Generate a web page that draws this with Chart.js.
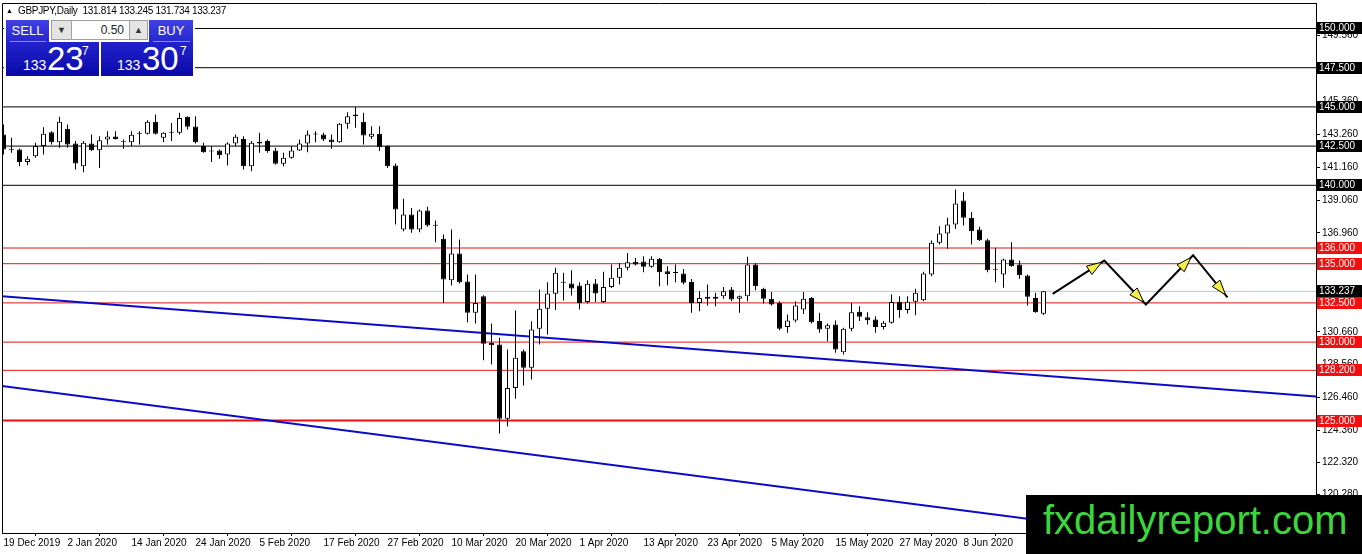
<!DOCTYPE html>
<html>
<head>
<meta charset="utf-8">
<script src="https://cdn.jsdelivr.net/npm/chart.js@4.4.1/dist/chart.umd.min.js"></script>
<style>
  html, body { margin: 0; padding: 0; background: #fff; }
  #wrap { position: relative; width: 1362px; height: 554px; overflow: hidden; font-family: 'Liberation Sans', Arial, sans-serif; }
  #chart { position: absolute; left: 0; top: 0; }
  .abs { position: absolute; white-space: nowrap; }
  #hdr { left: 6px; top: 5px; font-size: 10px; line-height: 12px; letter-spacing: -0.3px; color: #000; }
  #hdr .tri { font-size: 7px; letter-spacing: 0; margin-right: 5px; vertical-align: 1px; }
  .pbg { left: 4px; top: 18px; width: 191px; height: 60px; background: #fff; }
  .bhead { background: linear-gradient(#4040e2, #2626cf); color: #fff; font-family: 'Liberation Sans Narrow', 'Liberation Sans', sans-serif; font-size: 13px; line-height: 22px; text-align: center; }
  .bhead i { position: absolute; left: 4px; right: 3px; bottom: 0; height: 1px; background: #8a8af2; }
  .bbody { background: linear-gradient(#2222cc, #0909a9); }
  .num { color: #fff; font-family: 'Liberation Sans Narrow', 'Liberation Sans', sans-serif; line-height: 1; }
  .ctl { left: 51px; top: 20px; width: 97px; height: 20px; box-sizing: border-box; border: 1px solid #a0a0a0; background: #fff; }
  .btn { top: 20px; height: 20px; box-sizing: border-box; border: 1px solid #a0a0a0; background: #e4e4e4; color: #333; font-size: 9px; line-height: 18px; text-align: center; }
  #lot { left: 72px; top: 20px; width: 52px; font-size: 12px; line-height: 20px; text-align: right; color: #222; }
  #wm { left: 1026px; top: 495px; width: 336px; height: 59px; background: #000; }
  #wm span { position: absolute; left: 17px; top: 5px; font-family: 'Liberation Sans', Arial, sans-serif; font-size: 40px; line-height: 40px; color: #3cd63c; }
</style>
</head>
<body>
<div id="wrap">
  <canvas id="chart" width="1362" height="554"></canvas>

  <div id="hdr" class="abs"><span class="tri">▲</span>GBPJPY,Daily&nbsp; 131.814 133.245 131.734 133.237</div>

  <div class="abs pbg"></div>
  <div class="abs bhead" style="left:6px;top:20px;width:43px;height:22px">SELL<i></i></div>
  <div class="abs bbody" style="left:6px;top:42px;width:93px;height:34px"></div>
  <div class="abs num" style="left:23px;top:58px;font-size:14px">133</div>
  <div class="abs num" style="left:47px;top:42px;font-size:33px">23</div>
  <div class="abs num" style="left:82px;top:45px;font-size:12px">7</div>

  <div class="abs ctl"></div>
  <div class="abs btn" style="left:51px;width:21px">▼</div>
  <div class="abs btn" style="left:129px;width:19px">▲</div>
  <div id="lot" class="abs">0.50</div>

  <div class="abs bhead" style="left:149px;top:20px;width:44px;height:22px">BUY<i></i></div>
  <div class="abs bbody" style="left:101px;top:42px;width:92px;height:34px"></div>
  <div class="abs num" style="left:117px;top:58px;font-size:14px">133</div>
  <div class="abs num" style="left:142px;top:42px;font-size:33px">30</div>
  <div class="abs num" style="left:180px;top:45px;font-size:12px">7</div>

  <div id="wm" class="abs"><span>fxdailyreport.com</span></div>
</div>

<script>
// GBPJPY daily candles, 19 Dec 2019 onwards
const opens = [143.24,142.30,142.28,141.48,141.86,142.50,143.39,142.75,143.60,142.67,
  141.22,142.67,142.24,142.92,143.11,142.75,142.75,143.28,143.28,144.05,
  143.03,143.35,143.35,144.37,143.75,142.50,142.18,142.22,141.96,142.67,
  142.96,141.22,142.77,142.82,142.22,141.37,141.75,142.22,142.67,143.24,
  143.24,142.92,142.75,143.92,144.52,144.05,143.09,143.28,142.50,141.26,
  137.18,138.14,137.18,138.39,137.46,136.59,133.95,135.65,133.87,131.87,
  132.93,129.95,129.85,125.11,127.08,129.42,128.36,130.85,132.12,133.08,
  133.84,133.74,133.61,132.55,133.74,132.55,133.52,134.10,134.74,135.12,
  135.14,134.80,135.31,134.52,134.42,134.37,133.84,132.50,132.89,132.76,
  132.93,133.35,132.76,132.93,134.95,133.40,132.76,132.50,130.97,131.38,
  132.08,132.82,131.34,130.85,131.12,129.36,130.85,131.93,131.59,131.44,
  130.97,131.23,132.55,132.04,132.57,132.67,134.31,136.33,136.93,137.50,
  139.03,137.93,137.18,136.50,134.63,134.31,135.27,134.95,134.25,132.82,
  131.814]
const highs = [143.88,143.03,142.35,141.86,142.71,143.71,143.45,144.37,143.88,142.82,
  142.82,143.24,143.13,143.45,143.45,142.92,143.45,143.45,144.15,144.52,
  143.39,143.98,144.62,144.41,144.41,142.71,142.50,142.28,142.75,143.24,
  143.13,142.82,143.35,142.92,142.39,142.07,142.50,142.92,143.50,143.45,
  143.35,143.24,143.98,144.66,145.00,144.62,143.77,143.77,142.56,141.39,
  139.14,138.56,138.46,138.63,137.75,136.86,137.18,136.54,134.31,134.31,
  132.99,131.19,130.27,129.53,132.02,129.53,131.33,133.35,133.82,134.74,
  134.42,134.59,133.82,133.95,134.03,134.48,134.95,135.05,135.69,135.37,
  135.48,135.48,135.37,134.84,134.95,134.67,134.03,133.25,133.67,133.14,
  133.52,133.52,132.97,135.44,135.05,133.46,133.19,132.61,131.76,132.61,
  133.19,132.87,131.87,131.19,131.38,130.91,132.50,132.29,131.91,131.65,
  131.34,133.04,132.93,132.93,133.40,134.48,136.48,137.39,137.93,139.73,
  139.56,138.29,137.35,136.59,136.01,135.31,136.37,135.20,134.31,133.14,
  133.245]
const lows = [141.96,142.07,141.22,141.28,141.75,141.96,142.60,142.39,142.39,141.01,
  140.84,142.18,141.11,142.60,142.92,142.33,142.50,142.60,143.24,143.24,
  142.75,142.82,143.24,143.56,142.67,142.07,141.48,141.69,141.26,142.50,
  141.01,140.90,142.07,142.07,141.33,141.22,141.69,142.18,142.11,142.75,
  142.82,142.33,142.71,143.60,143.67,142.60,142.96,142.18,141.11,137.50,
  137.07,136.97,137.01,137.35,136.37,132.50,133.61,133.74,131.27,131.19,
  128.85,128.57,124.17,124.64,126.38,127.23,127.61,129.85,130.48,132.04,
  132.65,132.97,132.08,132.46,132.55,132.50,133.45,133.67,134.59,134.89,
  134.46,134.74,133.57,133.63,133.82,133.67,131.87,131.97,132.33,132.29,
  132.76,132.61,131.87,132.61,133.31,132.46,132.33,130.76,130.59,131.27,
  131.80,131.19,130.59,130.06,129.32,129.21,130.70,131.34,131.12,130.59,
  130.80,131.19,131.55,131.82,131.72,132.61,134.20,136.22,135.95,137.22,
  137.44,136.22,136.44,134.46,133.82,133.46,134.80,134.04,132.33,131.87,
  131.734]
const closes = [142.28,142.27,141.48,141.69,142.50,143.28,142.75,144.05,142.60,141.39,
  142.71,142.24,142.88,143.11,142.96,142.77,143.22,143.30,144.05,143.28,
  143.35,143.37,144.30,143.73,142.75,142.11,142.16,141.92,142.67,143.09,
  141.22,142.71,142.67,142.18,141.37,141.75,142.22,142.67,143.24,143.26,
  142.92,142.75,143.92,144.41,144.41,143.18,143.28,142.43,141.22,138.46,
  138.14,137.18,138.39,137.44,137.42,133.99,135.65,133.82,131.87,132.50,
  129.89,129.80,125.11,127.08,129.00,128.36,130.80,132.12,133.10,134.42,
  133.78,133.42,132.50,133.72,133.10,133.52,134.10,134.74,135.10,134.95,
  134.80,135.31,134.46,134.35,134.40,133.78,132.50,132.82,132.76,132.89,
  133.25,132.72,132.93,134.95,133.57,132.76,132.40,130.85,131.38,132.33,
  132.76,131.27,130.80,131.08,129.53,130.85,131.91,131.61,131.40,130.97,
  131.23,132.55,132.04,132.57,133.14,134.38,136.33,136.93,137.50,138.84,
  137.93,137.07,136.50,134.59,134.61,135.27,134.84,134.27,132.89,131.91,
  133.237]

// a date label every 8 bars
const dateLabels = ['19 Dec 2019','2 Jan 2020','14 Jan 2020','24 Jan 2020','5 Feb 2020',
  '17 Feb 2020','27 Feb 2020','10 Mar 2020','20 Mar 2020','1 Apr 2020','13 Apr 2020',
  '23 Apr 2020','5 May 2020','15 May 2020','27 May 2020','8 Jun 2020']
const priceTicks = [149.56,147.46,145.36,143.26,141.16,139.06,136.96,134.86,132.76,
  130.66,128.56,126.46,124.36,122.32,120.28]

const blackLevels = [150, 147.5, 145, 142.5, 140]
const redLevels = [136, 135, 132.5, 130, 128.2]
const strongLevels = [125]
const bidPrice = 133.237

// trend lines: [bar index, price] at both ends
const trendUpper = [[-1, 132.95], [165, 126.49]]
const trendLower = [[-1, 127.25], [165, 116.29]]

// projected zigzag after last bar
const forecastBars = [131.15, 137.6, 142.8, 148.7, 153.0]
const forecastPrices = [133.08, 135.20, 132.40, 135.54, 132.86]

const levelSet = (vals, color, width) => vals.map(v => ({
  type: 'line', data: [{x: -1, y: v}, {x: 170, y: v}],
  borderColor: color, borderWidth: width, pointRadius: 0, order: 5
}))
const trendSet = pts => ({
  type: 'line', data: pts.map(p => ({x: p[0], y: p[1]})),
  borderColor: '#0a0ac8', borderWidth: 2, pointRadius: 0, order: 4
})

const frame = {
  id: 'frame',
  afterDraw(chart) {
    const {ctx, chartArea: a} = chart
    ctx.save()
    ctx.strokeStyle = '#000'
    ctx.lineWidth = 1
    ctx.beginPath()
    ctx.moveTo(a.left + 0.5, a.bottom)
    ctx.lineTo(a.left + 0.5, a.top + 0.5)
    ctx.lineTo(a.right, a.top + 0.5)
    ctx.stroke()
    ctx.restore()
  }
}

const priceBoxes = {
  id: 'priceBoxes',
  afterDraw(chart) {
    const {ctx, chartArea: a, scales: {y}} = chart
    const boxes = [
      ...blackLevels.map(v => [v, '#000']),
      ...redLevels.map(v => [v, '#f01010']),
      ...strongLevels.map(v => [v, '#f01010']),
      [bidPrice, '#000']
    ]
    ctx.save()
    ctx.font = '10px "Liberation Sans"'
    ctx.textBaseline = 'middle'
    boxes.forEach(([v, c]) => {
      const py = Math.round(y.getPixelForValue(v))
      ctx.fillStyle = c
      ctx.fillRect(a.right + 1, py - 6, chart.width - a.right - 1, 12)
      ctx.fillStyle = '#fff'
      ctx.fillText(v.toFixed(3), a.right + 3, py + 0.5)
    })
    ctx.restore()
  }
}

const arrowHeads = {
  id: 'arrowHeads',
  afterDatasetsDraw(chart) {
    const i = chart.data.datasets.findIndex(d => d.label === 'forecast')
    const pts = chart.getDatasetMeta(i).data
    const ctx = chart.ctx
    ctx.save()
    for (let k = 1; k < pts.length; k++) {
      const a = pts[k - 1], b = pts[k]
      const ang = Math.atan2(b.y - a.y, b.x - a.x)
      const cs = Math.cos(ang), sn = Math.sin(ang)
      const tx = b.x - 3 * cs, ty = b.y - 3 * sn
      const bx = tx - 15 * cs, by = ty - 15 * sn
      ctx.beginPath()
      ctx.moveTo(tx, ty)
      ctx.lineTo(bx - 5 * sn, by + 5 * cs)
      ctx.lineTo(bx + 5 * sn, by - 5 * cs)
      ctx.closePath()
      ctx.fillStyle = '#f4ee4a'
      ctx.fill()
      ctx.strokeStyle = '#000'
      ctx.lineWidth = 1
      ctx.stroke()
    }
    ctx.restore()
  }
}

new Chart(document.getElementById('chart'), {
  type: 'bar',
  data: {
    datasets: [
      {
        label: 'forecast', type: 'line',
        data: forecastBars.map((x, i) => ({x: x, y: forecastPrices[i]})),
        borderColor: '#000', borderWidth: 2, pointRadius: 0, order: -1
      },
      {
        label: 'body',
        data: opens.map((o, i) => ({x: i, y: [o, closes[i]]})),
        backgroundColor: opens.map((o, i) => closes[i] >= o ? '#fff' : '#000'),
        borderColor: '#000', borderWidth: 1, borderSkipped: false,
        barThickness: 5, minBarLength: 1, grouped: false, inflateAmount: 0, order: 0
      },
      {
        label: 'wick',
        data: highs.map((h, i) => ({x: i, y: [lows[i], h]})),
        backgroundColor: '#000', borderWidth: 0,
        barThickness: 1, grouped: false, inflateAmount: 0, order: 1
      },
      trendSet(trendUpper),
      trendSet(trendLower),
      ...levelSet(blackLevels, '#000', 1),
      ...levelSet(redLevels, '#e01414', 1),
      ...levelSet(strongLevels, '#e81010', 2),
      ...levelSet([bidPrice], '#c4c4c4', 1)
    ]
  },
  options: {
    responsive: false,
    devicePixelRatio: 1,
    animation: false,
    layout: { padding: { left: 2, top: 3, right: 0, bottom: 0 } },
    plugins: { legend: { display: false }, tooltip: { enabled: false } },
    scales: {
      x: {
        type: 'linear', offset: false, min: -0.1875, max: 164.0625,
        afterBuildTicks: s => { s.ticks = dateLabels.map((d, i) => ({value: i * 8})) },
        afterFit: s => { s.height = 21; s.paddingLeft = 0; s.paddingRight = 0 },
        grid: { drawOnChartArea: false, drawTicks: true, tickLength: 3, color: '#000' },
        border: { display: true, color: '#000' },
        ticks: {
          autoSkip: false, maxRotation: 0, align: 'start', padding: 1, color: '#000',
          font: { family: 'Liberation Sans', size: 10 },
          callback: v => dateLabels[v / 8]
        }
      },
      y: {
        type: 'linear', position: 'right', min: 117.826, max: 151.626,
        afterBuildTicks: s => { s.ticks = priceTicks.map(v => ({value: v})) },
        afterFit: s => { s.width = 46; s.paddingTop = 0; s.paddingBottom = 0 },
        grid: { drawOnChartArea: false, drawTicks: true, tickLength: 4, color: '#000' },
        border: { display: true, color: '#000' },
        ticks: {
          autoSkip: false, padding: 2, color: '#000',
          font: { family: 'Liberation Sans', size: 10 },
          callback: v => v.toFixed(3)
        }
      }
    }
  },
  plugins: [frame, priceBoxes, arrowHeads]
})
</script>
</body>
</html>
